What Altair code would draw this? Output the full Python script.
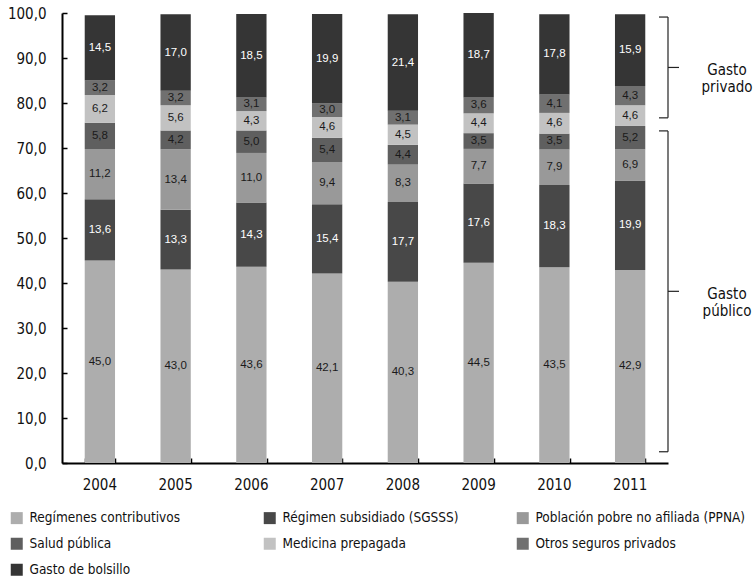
import altair as alt
import pandas as pd

# Health spending composition by financing source (% of total), 2004-2011
years = ["2004", "2005", "2006", "2007", "2008", "2009", "2010", "2011"]

series = [
    "Regímenes contributivos",
    "Régimen subsidiado (SGSSS)",
    "Población pobre no afiliada (PPNA)",
    "Salud pública",
    "Medicina prepagada",
    "Otros seguros privados",
    "Gasto de bolsillo",
]

contributivos = [45.0, 43.0, 43.6, 42.1, 40.3, 44.5, 43.5, 42.9]
subsidiado = [13.6, 13.3, 14.3, 15.4, 17.7, 17.6, 18.3, 19.9]
ppna = [11.2, 13.4, 11.0, 9.4, 8.3, 7.7, 7.9, 6.9]
salud_publica = [5.8, 4.2, 5.0, 5.4, 4.4, 3.5, 3.5, 5.2]
prepagada = [6.2, 5.6, 4.3, 4.6, 4.5, 4.4, 4.6, 4.6]
otros_seguros = [3.2, 3.2, 3.1, 3.0, 3.1, 3.6, 4.1, 4.3]
bolsillo = [14.5, 17.0, 18.5, 19.9, 21.4, 18.7, 17.8, 15.9]

colors = ["#adadad", "#484848", "#999999", "#5f5f5f", "#c2c2c2", "#707070", "#353535"]
white_text = ["Régimen subsidiado (SGSSS)", "Gasto de bolsillo"]

# Public / private spending groups marked with braces on the right
groups = ["Gasto\nprivado", "Gasto\npúblico"]
group_lo = [76.7, 2.5]
group_hi = [99.1, 73.8]

W, H = 606, 450
FONT = "DejaVu Sans Condensed, Roboto, sans-serif"
NUM_FONT = "Liberation Sans, Arial, sans-serif"

rows = []
for i, (name, vals) in enumerate(zip(series, [contributivos, subsidiado, ppna, salud_publica,
                                               prepagada, otros_seguros, bolsillo])):
    for y, v in zip(years, vals):
        rows.append({"anio": y, "serie": name, "orden": i, "valor": v})
df = pd.DataFrame(rows)

braces = pd.DataFrame({"grupo": groups, "lo": group_lo, "hi": group_hi})
braces["mid"] = (braces["lo"] + braces["hi"]) / 2

base = alt.Chart(df).transform_window(
    y1="sum(valor)", sort=[alt.SortField("orden")], groupby=["anio"],
    frame=[None, 0],
).transform_calculate(
    y0="datum.y1 - datum.valor",
    ymid="datum.y1 - datum.valor / 2",
    etiqueta="replace(format(datum.valor, '.1f'), '.', ',')",
)

yscale = alt.Scale(domain=[0, 100], nice=False)
xscale = alt.Scale(paddingInner=0.6, paddingOuter=0.3)

bars = base.mark_bar().encode(
    x=alt.X("anio:N", scale=xscale, sort=years, title=None,
            axis=alt.Axis(orient="bottom", ticks=False, labelAngle=0, labelPadding=14,
                          labelFont=FONT, labelFontSize=15, labelColor="#111",
                          domainColor="#000", domainWidth=2)),
    y=alt.Y("y0:Q", scale=yscale, title=None,
            axis=alt.Axis(orient="left", ticks=False, values=list(range(0, 101, 10)),
                          labelExpr="replace(format(datum.value, '.1f'), '.', ',')",
                          labelPadding=16, labelFont=FONT, labelFontSize=15,
                          labelColor="#111", domainColor="#000", domainWidth=2)),
    y2="y1:Q",
    color=alt.Color("serie:N", scale=alt.Scale(domain=series, range=colors),
                    legend=alt.Legend(title=None, orient="none", legendX=-52, legendY=498,
                                      direction="horizontal",
                                      columns=3, gridAlign="all", columnPadding=23,
                                      rowPadding=11, symbolType="square", symbolSize=144,
                                      symbolStrokeWidth=0, labelOffset=6,
                                      labelFont=FONT, labelFontSize=13.5, labelColor="#111",
                                      labelLimit=400)),
    order=alt.Order("orden:Q"),
)

labels = base.mark_text(font=NUM_FONT, fontSize=11.5).encode(
    x=alt.X("anio:N", scale=xscale, sort=years, title=None,
            axis=alt.Axis(orient="top", offset=-H, labels=False, domain=False,
                          ticks=True, tickBand="extent", tickSize=5, tickColor="#000",
                          tickWidth=1.5)),
    y=alt.Y("ymid:Q", scale=yscale, title=None,
            axis=alt.Axis(orient="right", offset=-W, labels=False, domain=False,
                          ticks=True, tickSize=5, tickColor="#000", tickWidth=1.5,
                          values=list(range(0, 101, 10)))),
    text="etiqueta:N",
    color=alt.condition(alt.FieldOneOfPredicate(field="serie", oneOf=white_text),
                        alt.value("#ffffff"), alt.value("#1a1a1a")),
)

bchart = alt.Chart(braces)
rule = dict(color="#222", strokeWidth=1.2)
stem = bchart.mark_rule(**rule).encode(
    x=alt.value(W), y=alt.Y("lo:Q", scale=yscale, axis=None), y2="hi:Q")
hook_top = bchart.mark_rule(**rule).encode(
    x=alt.value(W - 9), x2=alt.value(W), y=alt.Y("hi:Q", scale=yscale, axis=None))
hook_bot = bchart.mark_rule(**rule).encode(
    x=alt.value(W - 9), x2=alt.value(W), y=alt.Y("lo:Q", scale=yscale, axis=None))
tip = bchart.mark_rule(**rule).encode(
    x=alt.value(W), x2=alt.value(W + 11), y=alt.Y("mid:Q", scale=yscale, axis=None))
group_text = bchart.mark_text(font=FONT, fontSize=15, color="#111", lineBreak="\n",
                              align="center", baseline="middle", dy=3).encode(
    x=alt.value(W + 59), y=alt.Y("mid:Q", scale=yscale, axis=None), text="grupo:N")

chart = alt.layer(bars, labels, stem, hook_top, hook_bot, tip, group_text).resolve_axis(
    x="independent", y="independent"
).properties(
    width=W, height=H,
    autosize=alt.AutoSizeParams(type="none"),
    padding={"left": 62, "top": 13, "right": 87, "bottom": 119},
    background="white",
).configure_view(stroke=None).configure_axis(grid=False)

chart.save("out.html", embed_options={"renderer": "svg", "actions": False})
